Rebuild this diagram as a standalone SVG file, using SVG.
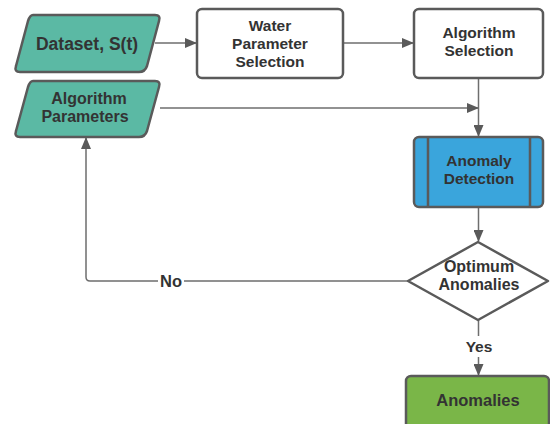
<svg xmlns="http://www.w3.org/2000/svg" width="550" height="424" viewBox="0 0 550 424">
<style>
.s{stroke:#5a5a5a;stroke-width:2.5;stroke-linejoin:round}
.t{font-family:"Liberation Sans",Arial,sans-serif;font-weight:bold;font-size:15.5px;fill:#333;text-anchor:middle}
.c{fill:none;stroke:#6e6e6e;stroke-width:1.5}
</style>
<defs>
<marker id="a" markerWidth="12" markerHeight="10" refX="11" refY="5" orient="auto" markerUnits="userSpaceOnUse">
<path d="M0,0 L12,5 L0,10 Z" fill="#5a5a5a"/>
</marker>
</defs>
<rect width="550" height="424" fill="#fff"/>
<g id="connectors">
<path class="c" d="M155,43 H196" marker-end="url(#a)"/>
<path class="c" d="M343,43 H413" marker-end="url(#a)"/>
<path class="c" d="M160,108 H478" marker-end="url(#a)"/>
<path class="c" d="M478.5,78 V136" marker-end="url(#a)"/>
<path class="c" d="M478.5,207 V241" marker-end="url(#a)"/>
<path class="c" d="M408,281 H90 Q86,281 86,277 V138" marker-end="url(#a)"/>
<path class="c" d="M478.5,320 V336 M478.5,357 V375" marker-end="url(#a)"/>
<rect x="158" y="273" width="26" height="16" fill="#fff"/>
<text class="t" x="171" y="287" style="font-size:16.5px">No</text>
<text class="t" x="479" y="352">Yes</text>
</g>
<g id="dataset">
<path class="s" d="M33,15 H155 Q161,15 159,21 L147,66 Q145,72 139,72 H20 Q14,72 16,66 L28,21 Q30,15 33,15 Z" fill="#5bb9a4"/>
<text class="t" x="87" y="50" style="font-size:17.5px">Dataset, S(t)</text>
</g>
<g id="algparams">
<path class="s" d="M33,81 H155 Q161,81 159,87 L147,131 Q145,137 139,137 H20 Q14,137 16,131 L28,87 Q30,81 33,81 Z" fill="#5bb9a4"/>
<text class="t" x="89" y="104" style="font-size:16px">Algorithm</text>
<text class="t" x="85" y="122" style="font-size:16px">Parameters</text>
</g>
<g id="water">
<rect class="s" x="197" y="9" width="146" height="69" rx="5" fill="#fff"/>
<text class="t" x="270" y="31">Water</text>
<text class="t" x="270" y="49">Parameter</text>
<text class="t" x="270" y="67">Selection</text>
</g>
<g id="algsel">
<rect class="s" x="414" y="9" width="129" height="69" rx="5" fill="#fff"/>
<text class="t" x="479" y="38">Algorithm</text>
<text class="t" x="479" y="56">Selection</text>
</g>
<g id="detection">
<rect class="s" x="414" y="137" width="129" height="70" rx="5" fill="#3aa5dc"/>
<path class="s" d="M428,137 V207 M530,137 V207" fill="none"/>
<text class="t" x="479" y="166">Anomaly</text>
<text class="t" x="479" y="184">Detection</text>
</g>
<g id="optimum">
<path class="s" d="M478,242 L548,281 L478,320 L408,281 Z" fill="#fff"/>
<text class="t" x="479" y="272" style="font-size:16px">Optimum</text>
<text class="t" x="479" y="290" style="font-size:16px">Anomalies</text>
</g>
<g id="anomalies">
<rect class="s" x="406" y="376" width="143" height="60" rx="5" fill="#7ab648"/>
<text class="t" x="478" y="406" style="font-size:16.5px">Anomalies</text>
</g>
</svg>
